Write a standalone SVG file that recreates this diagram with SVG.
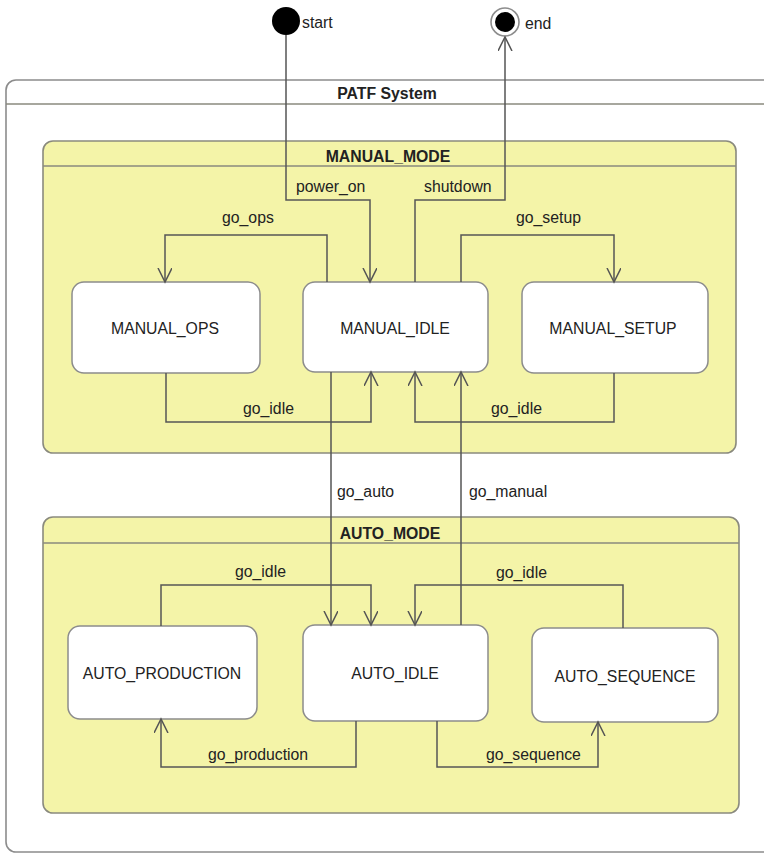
<svg xmlns="http://www.w3.org/2000/svg" width="764" height="854" viewBox="0 0 764 854">
  <style>
    .frame { fill: #ffffff; stroke: #8c8c8c; stroke-width: 1.6; }
    .region { fill: #f4f4a8; stroke: #8a8a7e; stroke-width: 1.6; }
    .divider { stroke: #8a8a7e; stroke-width: 1.6; fill: none; }
    .state { fill: #ffffff; stroke: #8c8c8c; stroke-width: 1.5; }
    .edge { fill: none; stroke: #555555; stroke-width: 1.5; marker-end: url(#arrow); }
    text { font-family: "Liberation Sans", Arial, sans-serif; font-size: 15.8px; fill: #222222; }
    .title { font-weight: bold; text-anchor: middle; }
    .name { text-anchor: middle; }
  </style>
  <defs>
    <marker id="arrow" markerUnits="userSpaceOnUse" markerWidth="16" markerHeight="16" refX="14" refY="7" orient="auto">
      <path d="M0,0 L14,7 L0,14" fill="none" stroke="#555555" stroke-width="1.5"/>
    </marker>
  </defs>

  <!-- outer composite state -->
  <g id="patf-system">
    <rect class="frame" x="6" y="80" width="800" height="772" rx="10"/>
    <line class="divider" x1="6" y1="104" x2="764" y2="104" stroke="#8c8c8c"/>
    <text class="title" x="387" y="99">PATF System</text>
  </g>

  <!-- manual mode region -->
  <g id="manual-mode">
    <rect class="region" x="43" y="141" width="693" height="312" rx="10"/>
    <line class="divider" x1="43" y1="166" x2="736" y2="166"/>
    <text class="title" x="388" y="162">MANUAL_MODE</text>
  </g>

  <!-- auto mode region -->
  <g id="auto-mode">
    <rect class="region" x="43" y="517" width="696" height="296" rx="10"/>
    <line class="divider" x1="43" y1="543" x2="739" y2="543"/>
    <text class="title" x="390" y="539">AUTO_MODE</text>
  </g>

  <!-- pseudo states -->
  <g id="start">
    <circle cx="286" cy="21" r="14" fill="#000000"/>
    <text x="302" y="28">start</text>
  </g>
  <g id="end">
    <circle cx="505" cy="22" r="14" fill="#ffffff" stroke="#8c8c8c" stroke-width="1.6"/>
    <circle cx="505" cy="22" r="10" fill="#000000"/>
    <text x="525" y="29">end</text>
  </g>

  <!-- states -->
  <g id="manual-ops">
    <rect class="state" x="72" y="282" width="188" height="91" rx="12"/>
    <text class="name" x="165" y="334">MANUAL_OPS</text>
  </g>
  <g id="manual-idle">
    <rect class="state" x="303" y="282" width="185" height="90" rx="12"/>
    <text class="name" x="395" y="334">MANUAL_IDLE</text>
  </g>
  <g id="manual-setup">
    <rect class="state" x="522" y="282" width="186" height="91" rx="12"/>
    <text class="name" x="613" y="334">MANUAL_SETUP</text>
  </g>
  <g id="auto-production">
    <rect class="state" x="68" y="626" width="189" height="93" rx="12"/>
    <text class="name" x="162" y="679">AUTO_PRODUCTION</text>
  </g>
  <g id="auto-idle">
    <rect class="state" x="303" y="625" width="185" height="96" rx="12"/>
    <text class="name" x="395" y="679">AUTO_IDLE</text>
  </g>
  <g id="auto-sequence">
    <rect class="state" x="532" y="628" width="186" height="94" rx="12"/>
    <text class="name" x="625" y="682">AUTO_SEQUENCE</text>
  </g>

  <!-- transitions -->
  <g id="connectors">
    <path class="edge" d="M286,35 V200 H370 V282"/>
    <path class="edge" d="M415,282 V200 H505 V37"/>
    <path class="edge" d="M327,282 V235 H165 V282"/>
    <path class="edge" d="M461,282 V235 H614 V282"/>
    <path class="edge" d="M166,373 V422 H371 V372"/>
    <path class="edge" d="M614,373 V422 H415 V372"/>
    <path class="edge" d="M331,372 V625"/>
    <path class="edge" d="M461,625 V372"/>
    <path class="edge" d="M161,626 V585 H371 V625"/>
    <path class="edge" d="M623,628 V585 H415 V625"/>
    <path class="edge" d="M356,721 V767 H161 V719"/>
    <path class="edge" d="M437,721 V767 H598 V722"/>

    <text x="296" y="192">power_on</text>
    <text x="424" y="192">shutdown</text>
    <text x="222" y="223">go_ops</text>
    <text x="516" y="223">go_setup</text>
    <text x="243" y="414">go_idle</text>
    <text x="491" y="414">go_idle</text>
    <text x="337" y="497">go_auto</text>
    <text x="469" y="497">go_manual</text>
    <text x="235" y="577">go_idle</text>
    <text x="496" y="578">go_idle</text>
    <text x="208" y="760">go_production</text>
    <text x="486" y="760">go_sequence</text>
  </g>
</svg>
